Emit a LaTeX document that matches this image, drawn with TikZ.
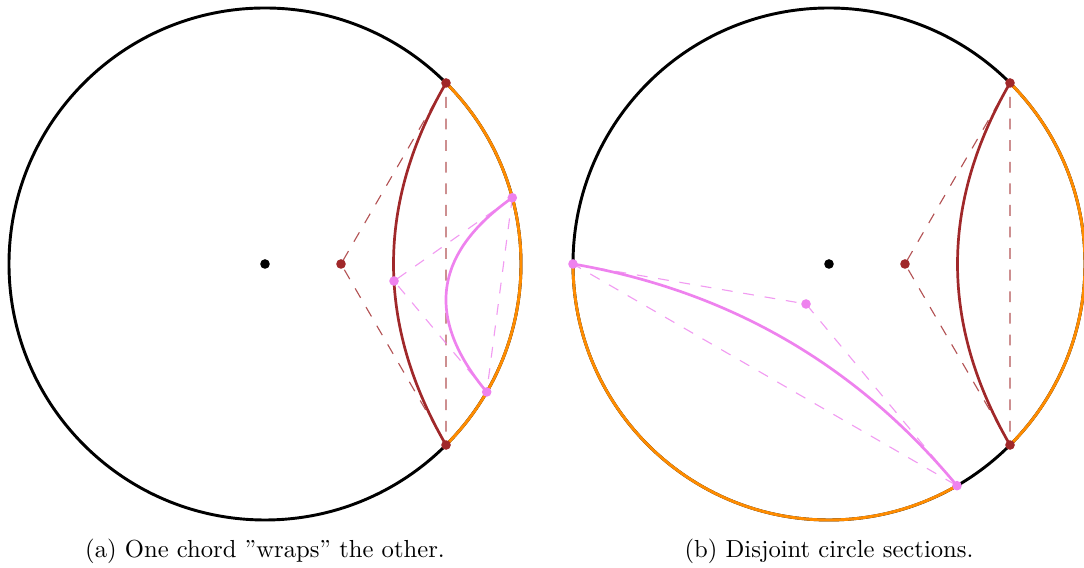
\documentclass[tikz,border=0pt]{standalone}
\usetikzlibrary{calc}
\definecolor{chordbrown}{RGB}{160,40,42}
\definecolor{chordpink}{RGB}{238,130,238}
\definecolor{arcorange}{RGB}{255,140,0}
\begin{document}
\begin{tikzpicture}[
  every node/.style={font=\fontsize{10.95}{13.6}\selectfont},
  disk/.style={line width=1.3pt},
  rim/.style={draw=arcorange,line width=1.3pt},
  geo/.style={line width=1.2pt},
  aux/.style={line width=0.5pt,dash pattern=on 4.8pt off 4.8pt,opacity=0.8},
  pt/.style={circle,fill=#1,inner sep=0pt,minimum size=0.15cm}]
\useasboundingbox (-4.1406,-4.75) rectangle (12.797,4.125);
\coordinate (aO) at (0,0);
\coordinate (aB1) at (45:4);
\coordinate (aB2) at (-45:4);
\coordinate (aBc) at (1.1875,0);
\coordinate (aV1) at (15:4);
\coordinate (aV2) at (-30:4);
\coordinate (aVc) at (2.016,-0.266);
\draw[disk] (aO) circle[radius=4];
\draw[rim] (aB2) arc[start angle=-45,end angle=45,radius=4];
\draw[aux,chordbrown] (aB1) -- (aBc) -- (aB2) -- cycle;
\draw[aux,chordpink] (aV1) -- (aVc) -- (aV2) -- cycle;
\draw[geo,chordbrown] (aB1) .. controls ($(aB1)!2/3!(aBc)$) and ($(aB2)!2/3!(aBc)$) .. (aB2);
\draw[geo,chordpink] (aV1) .. controls ($(aV1)!2/3!(aVc)$) and ($(aV2)!2/3!(aVc)$) .. (aV2);
\node[pt=black] (aOd) at (aO) {};
\node[pt=chordbrown] (aB1d) at (aB1) {};
\node[pt=chordbrown] (aB2d) at (aB2) {};
\node[pt=chordbrown] (aBcd) at (aBc) {};
\node[pt=chordpink] (aV1d) at (aV1) {};
\node[pt=chordpink] (aV2d) at (aV2) {};
\node[pt=chordpink] (aVcd) at (aVc) {};
\node (capa) at (0,-4.49) {(a) One chord ''wraps'' the other.};
\begin{scope}[xshift=8.8125cm]
\coordinate (bO) at (0,0);
\coordinate (bB1) at (45:4);
\coordinate (bB2) at (-45:4);
\coordinate (bBc) at (1.1875,0);
\coordinate (bV1) at (180:4);
\coordinate (bV2) at (-60:4);
\coordinate (bVc) at (-0.359,-0.625);
\draw[disk] (bO) circle[radius=4];
\draw[rim] (bB2) arc[start angle=-45,end angle=45,radius=4];
\draw[rim] (bV1) arc[start angle=180,end angle=300,radius=4];
\draw[aux,chordbrown] (bB1) -- (bBc) -- (bB2) -- cycle;
\draw[aux,chordpink] (bV1) -- (bVc) -- (bV2) -- cycle;
\draw[geo,chordbrown] (bB1) .. controls ($(bB1)!2/3!(bBc)$) and ($(bB2)!2/3!(bBc)$) .. (bB2);
\draw[geo,chordpink] (bV1) .. controls ($(bV1)!2/3!(bVc)$) and ($(bV2)!2/3!(bVc)$) .. (bV2);
\node[pt=black] (bOd) at (bO) {};
\node[pt=chordbrown] (bB1d) at (bB1) {};
\node[pt=chordbrown] (bB2d) at (bB2) {};
\node[pt=chordbrown] (bBcd) at (bBc) {};
\node[pt=chordpink] (bV1d) at (bV1) {};
\node[pt=chordpink] (bV2d) at (bV2) {};
\node[pt=chordpink] (bVcd) at (bVc) {};
\node (capb) at (0,-4.49) {(b) Disjoint circle sections.};
\end{scope}
\end{tikzpicture}
\end{document}
